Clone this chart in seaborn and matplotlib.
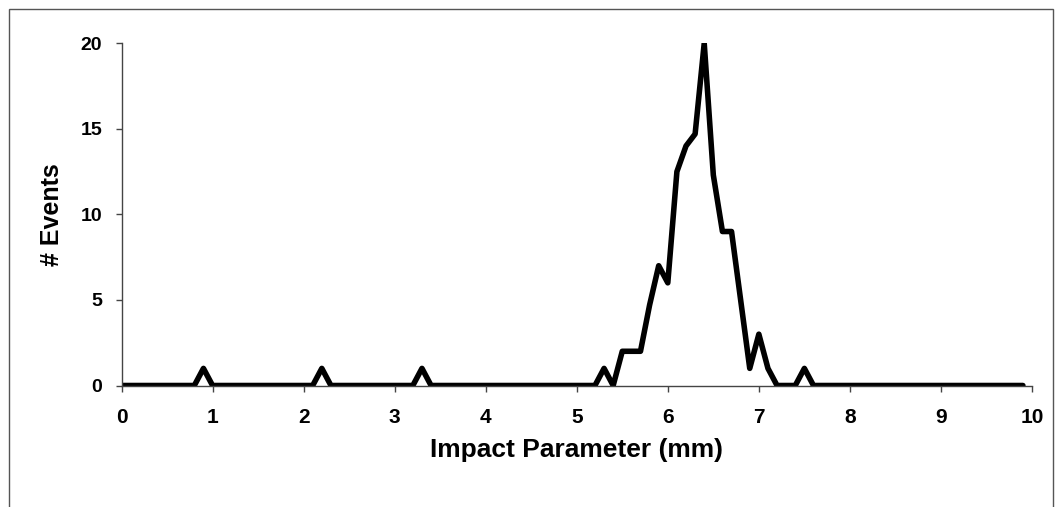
import numpy as np
import pandas as pd
import matplotlib
matplotlib.use("Agg")
import matplotlib.pyplot as plt
import seaborn as sns
from matplotlib.patches import Rectangle

# Impact parameter bins (mm), 0.1 mm wide
impact_mm = np.round(np.arange(0, 100) * 0.1, 1)
# Number of events per bin
events = [
    0, 0, 0, 0, 0, 0, 0, 0, 0, 1,          # 0.0 - 0.9
    0, 0, 0, 0, 0, 0, 0, 0, 0, 0,          # 1.0 - 1.9
    0, 0, 1, 0, 0, 0, 0, 0, 0, 0,          # 2.0 - 2.9
    0, 0, 0, 1, 0, 0, 0, 0, 0, 0,          # 3.0 - 3.9
    0, 0, 0, 0, 0, 0, 0, 0, 0, 0,          # 4.0 - 4.9
    0, 0, 0, 1, 0, 2, 2, 2, 4.7, 7,        # 5.0 - 5.9
    6, 12.5, 14, 14.7, 20, 12.3, 9, 9, 5, 1,  # 6.0 - 6.9
    3, 1, 0, 0, 0, 1, 0, 0, 0, 0,          # 7.0 - 7.9
    0, 0, 0, 0, 0, 0, 0, 0, 0, 0,          # 8.0 - 8.9
    0, 0, 0, 0, 0, 0, 0, 0, 0, 0,          # 9.0 - 9.9
]
x_ticks = [0, 1, 2, 3, 4, 5, 6, 7, 8, 9, 10]
y_ticks = [0, 5, 10, 15, 20]

sns.set_theme(style="white")
plt.rcParams["font.family"] = ["Liberation Sans", "DejaVu Sans"]
plt.rcParams["font.weight"] = "bold"

df = pd.DataFrame({"Impact Parameter (mm)": impact_mm, "# Events": events})

fig = plt.figure(figsize=(10.55, 5.07), dpi=100)
ax = fig.add_axes([121.5 / 1055, 1 - 385.5 / 507, (1032 - 121.5) / 1055, (385.5 - 43.3) / 507])

sns.lineplot(data=df, x="Impact Parameter (mm)", y="# Events", ax=ax,
             color="black", linewidth=4.0, solid_joinstyle="round",
             solid_capstyle="round", clip_on=True)

ax.set_xlim(0, 10)
ax.set_ylim(0, 20)
ax.set_xticks(x_ticks)
ax.set_yticks(y_ticks)
ax.tick_params(axis="x", labelsize=15, length=4, width=1, color="#444444",
               pad=12, direction="out", bottom=True)
ax.tick_params(axis="y", labelsize=14, length=4, width=1, color="#444444",
               pad=10, direction="out", left=True)
for lab in ax.get_xticklabels() + ax.get_yticklabels():
    lab.set_fontweight("bold")
    lab.set_color("black")

ax.set_xlabel("Impact Parameter (mm)", fontsize=19, fontweight="bold",
              color="black", labelpad=8)
ax.set_ylabel("# Events", fontsize=18, fontweight="bold", color="black",
              labelpad=12)

for side in ["top", "right"]:
    ax.spines[side].set_visible(False)
for side in ["left", "bottom"]:
    ax.spines[side].set_color("#444444")
    ax.spines[side].set_linewidth(1)
ax.grid(False)

# outer chart-area border
fig.patches.append(Rectangle((9 / 1055, -0.02), (1053 - 9) / 1055, 1.02 - 9 / 507,
                             transform=fig.transFigure, fill=False,
                             edgecolor="#555555", linewidth=1))

fig.savefig("out.png", dpi=100, facecolor="white")
